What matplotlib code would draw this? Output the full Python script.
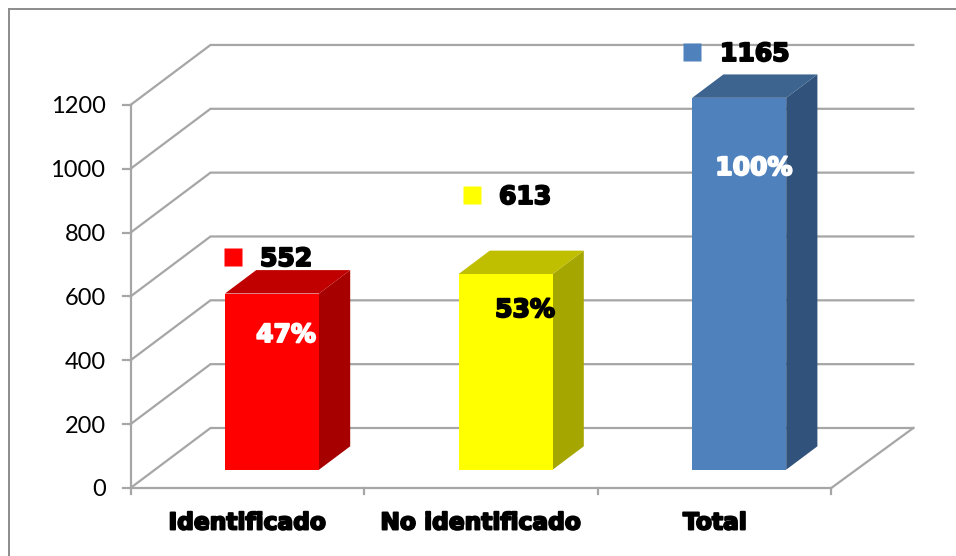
import matplotlib
matplotlib.use('Agg')
import matplotlib.pyplot as plt
import matplotlib.patheffects as pe
from matplotlib.lines import Line2D

categories = ['Identificado', 'No identificado', 'Total']
values = [552, 613, 1165]
percents = ['47%', '53%', '100%']
y_ticks = [0, 200, 400, 600, 800, 1000, 1200]

front_colors = ['#FF0000', '#FFFF00', '#4F81BD']
side_colors = ['#A60000', '#A6A600', '#31527A']
top_colors = ['#C00000', '#BFBF00', '#3D638F']
percent_colors = ['white', 'black', 'white']

W, H = 956, 556
CAT_PX = 233.6     # pixels per category
VAL_PX = 0.3192    # pixels per value unit
X0_PX, Y0_PX = 130.5, 488   # where the axes origin sits in the image

# depth of the 3d box in data units
DX = 80 / CAT_PX
DY = 60 / VAL_PX
BAR_W = 94 / CAT_PX
GREY = '#A6A6A6'
BLACK_FONT = 'DejaVu Sans'


def project(x, v, depth=0.0):
    return x + DX * depth, v + DY * depth


def px(x_px, y_px):
    # image pixel to data coordinates, only used for the free floating labels
    return (x_px - X0_PX) / CAT_PX - 0.5, (Y0_PX - y_px) / VAL_PX


def heavy(color='black', width=1.4):
    return [pe.withStroke(linewidth=width, foreground=color)]


fig = plt.figure(figsize=(W / 100, H / 100), dpi=100)
ax = fig.add_axes([0, 0, 1, 1])
ax.set_xlim(-0.5 - X0_PX / CAT_PX, -0.5 + (W - X0_PX) / CAT_PX)
ax.set_ylim(-(H - Y0_PX) / VAL_PX, Y0_PX / VAL_PX)
ax.axis('off')

# outer frame
fig.add_artist(Line2D([9 / W, 9 / W], [0, 1 - 9 / H], color='#8C8C8C', lw=1.4))
fig.add_artist(Line2D([9 / W, 1], [1 - 9 / H, 1 - 9 / H], color='#8C8C8C', lw=1.4))

xl, xr = -0.5, 2.5
grid_kw = dict(color=GREY, lw=1.6, zorder=1, solid_joinstyle='miter')

# walls and gridlines
for v in y_ticks:
    bx, by = project(xl, v, 1)
    qx, qy = project(xr, v, 1)
    ax.plot([xl, bx, qx + 2 / CAT_PX], [v, by, qy], **grid_kw)
    ax.plot([xl - 8 / CAT_PX, xl], [v, v], **grid_kw)
    ax.text(xl - 25 / CAT_PX, v, str(v), ha='right', va='center_baseline',
            fontsize=17, family='Lato', color='black')

# floor front, right floor edge, value axis
ax.plot([xl, xr], [0, 0], **grid_kw)
ex, ey = project(xr, 0, 1)
ax.plot([xr, ex + 2 / CAT_PX], [0, ey], **grid_kw)
ax.plot([xl, xl], [0, y_ticks[-1]], **grid_kw)
for i in range(len(categories) + 1):
    ax.plot([xl + i, xl + i], [0, -6 / VAL_PX], **grid_kw)

# bars
d0, d1 = 0.305, 0.695
for i, (name, v) in enumerate(zip(categories, values)):
    x0 = i + (272 - 247.3) / CAT_PX - BAR_W / 2 - DX * d0
    x1 = x0 + BAR_W
    a = project(x0, 0, d0)
    b = project(x1, 0, d0)
    c = project(x1, v, d0)
    d = project(x0, v, d0)
    e = project(x1, 0, d1)
    f = project(x1, v, d1)
    g = project(x0, v, d1)
    ax.fill(*zip(b, e, f, c), color=side_colors[i], lw=0, zorder=3)
    ax.fill(*zip(d, c, f, g), color=top_colors[i], lw=0, zorder=3)
    ax.fill(*zip(a, b, c, d), color=front_colors[i], lw=0, zorder=4)

    # percentage in the bar
    tx, ty = px([286, 525, 754][i], [335, 310, 168][i])
    ax.text(tx, ty, percents[i], ha='center', va='center', fontsize=18,
            family=BLACK_FONT, weight='bold', color=percent_colors[i], zorder=6,
            path_effects=heavy(percent_colors[i]))

    # little legend key plus value
    kx, ky = px([232.5, 471.5, 691.5][i], [256.5, 195, 52][i])
    ax.plot(kx, ky, 's', ms=12.6, mec='none', color=front_colors[i], zorder=6)
    tx, ty = px([260, 499, 720][i], [259, 197, 54][i])
    ax.text(tx, ty, str(v), ha='left', va='center', fontsize=18, family=BLACK_FONT,
            weight='bold', color='black', zorder=6, path_effects=heavy())

    # category label
    tx, ty = px([247.5, 481, 715][i], 0)
    ax.text(tx, px(0, 523)[1], name, ha='center', va='center', fontsize=16.8,
            family=BLACK_FONT, weight='bold', color='black', path_effects=heavy())

fig.savefig('out.png', dpi=100)
